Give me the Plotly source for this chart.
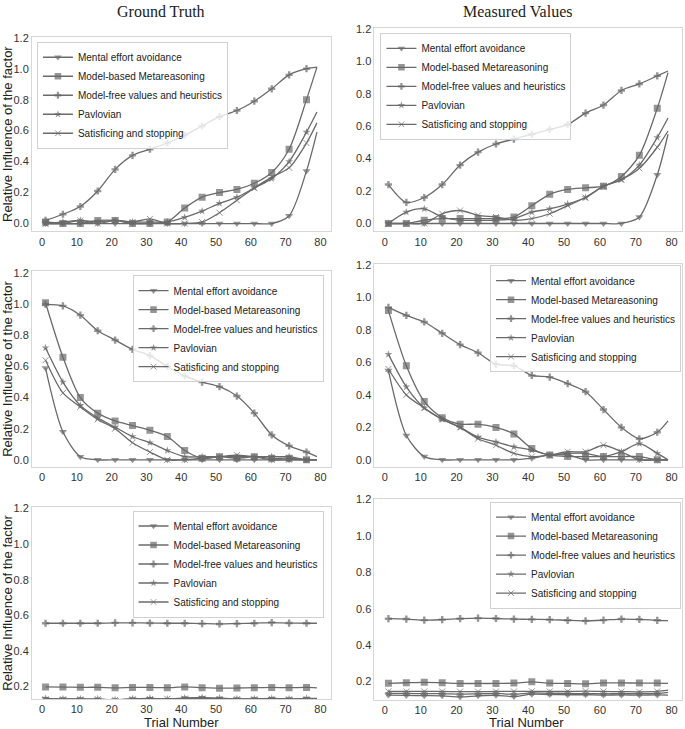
import plotly.graph_objects as go

# trials where a marker is drawn (every 5th), plus the last trial
trials = [1, 6, 11, 16, 21, 26, 31, 36, 41, 46, 51, 56, 61, 66, 71, 76, 79]

factors = ["Mental effort avoidance", "Model-based Metareasoning",
           "Model-free values and heuristics", "Pavlovian", "Satisficing and stopping"]

x_ticks = [0, 10, 20, 30, 40, 50, 60, 70, 80]
y_ticks = [0.0, 0.2, 0.4, 0.6, 0.8, 1.0, 1.2]
y_ticks_flat = [0.2, 0.4, 0.6, 0.8, 1.0, 1.2]

# row 1 - increasing
truth_up = [
    [0, 0, 0, 0, 0, 0, 0, 0, 0, 0, 0, 0, 0, 0, 0.05, 0.34, 0.59],
    [0.01, 0.0, 0.0, 0.02, 0.02, 0.0, 0.0, 0.01, 0.10, 0.17, 0.20, 0.22, 0.26, 0.33, 0.48, 0.80, 1.01],
    [0.02, 0.06, 0.11, 0.21, 0.35, 0.44, 0.48, 0.52, 0.57, 0.63, 0.69, 0.73, 0.79, 0.87, 0.96, 1.00, 1.01],
    [0.0, 0.01, 0.02, 0.01, 0.02, 0.01, 0.01, 0.01, 0.04, 0.08, 0.13, 0.17, 0.23, 0.29, 0.40, 0.59, 0.72],
    [0.0, 0.0, 0.02, 0.0, 0.02, 0.01, 0.03, 0.0, 0.0, 0.01, 0.07, 0.15, 0.23, 0.30, 0.36, 0.52, 0.65],
]
measured_up = [
    [0, 0, 0, 0, 0, 0, 0, 0, 0, 0, 0, 0, 0, 0, 0.04, 0.30, 0.55],
    [0.0, 0.0, 0.02, 0.03, 0.03, 0.03, 0.03, 0.04, 0.11, 0.18, 0.21, 0.22, 0.23, 0.29, 0.42, 0.71, 0.93],
    [0.24, 0.13, 0.16, 0.24, 0.36, 0.44, 0.49, 0.52, 0.55, 0.58, 0.61, 0.68, 0.73, 0.82, 0.86, 0.91, 0.94],
    [0.0, 0.07, 0.09, 0.04, 0.02, 0.02, 0.02, 0.03, 0.07, 0.09, 0.12, 0.16, 0.23, 0.27, 0.36, 0.53, 0.65],
    [0.0, 0.0, 0.0, 0.06, 0.08, 0.05, 0.04, 0.02, 0.03, 0.06, 0.11, 0.16, 0.23, 0.27, 0.34, 0.47, 0.57],
]

# row 2 - decreasing
truth_down = [
    [0.59, 0.18, 0.02, 0.0, 0, 0, 0, 0, 0, 0, 0, 0, 0, 0, 0, 0, 0],
    [1.01, 0.66, 0.40, 0.30, 0.25, 0.22, 0.19, 0.15, 0.06, 0.01, 0.02, 0.01, 0.02, 0.01, 0.01, 0.0, 0.0],
    [1.00, 0.99, 0.93, 0.83, 0.77, 0.71, 0.67, 0.60, 0.54, 0.50, 0.47, 0.41, 0.30, 0.16, 0.09, 0.05, 0.02],
    [0.72, 0.50, 0.35, 0.27, 0.21, 0.15, 0.11, 0.06, 0.02, 0.02, 0.02, 0.02, 0.02, 0.02, 0.02, 0.0, 0.0],
    [0.64, 0.43, 0.34, 0.26, 0.20, 0.11, 0.05, 0.0, 0.0, 0.01, 0.02, 0.03, 0.02, 0.0, 0.0, 0.0, 0.0],
]
measured_down = [
    [0.55, 0.15, 0.02, 0, 0, 0, 0, 0, 0.01, 0.03, 0.03, 0.0, 0.0, 0.0, 0.0, 0.0, 0.0],
    [0.92, 0.58, 0.36, 0.26, 0.22, 0.22, 0.20, 0.16, 0.07, 0.03, 0.02, 0.02, 0.02, 0.02, 0.02, 0.0, 0.0],
    [0.94, 0.89, 0.85, 0.78, 0.71, 0.66, 0.59, 0.58, 0.52, 0.51, 0.47, 0.42, 0.31, 0.20, 0.13, 0.17, 0.24],
    [0.65, 0.45, 0.32, 0.25, 0.20, 0.14, 0.11, 0.08, 0.06, 0.03, 0.04, 0.04, 0.02, 0.05, 0.10, 0.04, 0.0],
    [0.56, 0.40, 0.32, 0.25, 0.20, 0.13, 0.09, 0.04, 0.02, 0.03, 0.05, 0.05, 0.09, 0.05, 0.0, 0.0, 0.0],
]

# row 3 - flat
truth_flat = [
    [0.130, 0.128, 0.128, 0.127, 0.122, 0.128, 0.130, 0.125, 0.133, 0.135, 0.130, 0.128, 0.129, 0.130, 0.128, 0.130, 0.130],
    [0.197, 0.196, 0.195, 0.195, 0.192, 0.194, 0.194, 0.193, 0.197, 0.193, 0.190, 0.191, 0.193, 0.194, 0.193, 0.194, 0.192],
    [0.555, 0.555, 0.555, 0.555, 0.557, 0.557, 0.556, 0.555, 0.555, 0.553, 0.551, 0.553, 0.555, 0.559, 0.556, 0.555, 0.555],
    [0.132, 0.130, 0.130, 0.129, 0.125, 0.130, 0.133, 0.128, 0.135, 0.137, 0.134, 0.130, 0.130, 0.132, 0.130, 0.133, 0.133],
    [0.128, 0.128, 0.127, 0.128, 0.124, 0.128, 0.129, 0.130, 0.131, 0.132, 0.129, 0.128, 0.128, 0.130, 0.128, 0.129, 0.130],
]
measured_flat = [
    [0.125, 0.123, 0.122, 0.121, 0.115, 0.121, 0.124, 0.117, 0.130, 0.128, 0.127, 0.127, 0.125, 0.126, 0.125, 0.126, 0.125],
    [0.190, 0.193, 0.195, 0.193, 0.189, 0.189, 0.189, 0.191, 0.198, 0.191, 0.189, 0.187, 0.192, 0.192, 0.191, 0.191, 0.189],
    [0.545, 0.543, 0.537, 0.540, 0.545, 0.548, 0.546, 0.543, 0.541, 0.540, 0.536, 0.533, 0.537, 0.543, 0.541, 0.536, 0.534],
    [0.135, 0.134, 0.133, 0.133, 0.130, 0.132, 0.134, 0.130, 0.137, 0.135, 0.134, 0.133, 0.132, 0.133, 0.133, 0.134, 0.140],
    [0.145, 0.145, 0.145, 0.145, 0.144, 0.144, 0.145, 0.145, 0.146, 0.145, 0.145, 0.147, 0.145, 0.144, 0.143, 0.145, 0.152],
]

W, H = 685, 729
GREY = "#6a6a6a"
SANS = "Liberation Sans, Arial, sans-serif"
SERIF = "Liberation Serif, Times New Roman, serif"
symbols = ["triangle-down", "square", "cross", "star", "x-thin"]
msizes = [7, 7, 6, 6, 6]

# (data, frame px [left, right, top, bottom], y range, legend position)
panels = [
    (truth_up, [31, 330, 32, 228], [-0.051, 1.206], (36, 37, "left")),
    (measured_up, [374, 682, 23, 228], [-0.049, 1.206], (380, 28, "left")),
    (truth_down, [31, 330, 268, 465], [-0.045, 1.213], (323, 272, "right")),
    (measured_down, [374, 682, 261, 465], [-0.043, 1.206], (681, 262, "right")),
    (truth_flat, [31, 330, 505, 699], [0.128, 1.211], (323, 509, "right")),
    (measured_flat, [374, 682, 497, 700], [0.097, 1.205], (681, 500, "right")),
]

fig = go.Figure()
for i, (data, frame, yr, leg) in enumerate(panels):
    n = i + 1
    sfx = "" if n == 1 else str(n)
    lname = "legend" + sfx
    for k, name in enumerate(factors):
        sizes = [msizes[k]] * (len(trials) - 1) + [0]
        fig.add_trace(go.Scatter(
            x=trials, y=data[k], name=name, mode="lines+markers",
            line=dict(color=GREY, width=1.3, shape="spline", smoothing=0.8),
            marker=dict(symbol=symbols[k], size=sizes, color=GREY,
                        line=dict(color=GREY, width=1 if k == 4 else 0)),
            xaxis="x" + sfx, yaxis="y" + sfx, legend=lname,
        ))
    l, r, t, b = frame
    left_col = l < 100
    bottom_row = n >= 5
    fig.layout["xaxis" + sfx] = dict(
        domain=[l / W, r / W], anchor="y" + sfx, range=[-2.9, 82.9],
        tickvals=x_ticks, showgrid=False, zeroline=False, ticks="",
        showline=True, linecolor="#d6d6d6", mirror=True, linewidth=1,
        tickfont=dict(size=11, color="#333", family=SANS),
    )
    fig.layout["yaxis" + sfx] = dict(
        domain=[1 - b / H, 1 - t / H], anchor="x" + sfx, range=yr,
        tickvals=y_ticks_flat if bottom_row else y_ticks, tickformat=".1f",
        showgrid=False, zeroline=False, ticks="",
        showline=True, linecolor="#d6d6d6", mirror=True, linewidth=1,
        tickfont=dict(size=11, color="#333", family=SANS),
        title=dict(text="Relative Influence of the factor" if left_col else "",
                   font=dict(size=13, color="#222", family=SANS), standoff=4),
    )
    lx, ly, side = leg
    fig.layout[lname] = dict(
        x=lx / W, y=1 - ly / H, xanchor=side, yanchor="top",
        bgcolor="rgba(255,255,255,0.8)", bordercolor="#d0d0d0", borderwidth=1,
        font=dict(size=10, color="#222", family=SANS), itemwidth=30,
        tracegroupgap=0,
    )

# column titles and the x-axis titles of the bottom row
for text, cx, cy, font in [
    ("Ground Truth", 160, 7, dict(size=16, family=SERIF, color="#222")),
    ("Measured Values", 517, 7, dict(size=16, family=SERIF, color="#222")),
    ("Trial Number", 181, 722, dict(size=13, family=SANS, color="#222")),
    ("Trial Number", 526, 722, dict(size=13, family=SANS, color="#222")),
]:
    fig.add_annotation(text=text, x=cx / W, y=1 - cy / H, xref="paper", yref="paper",
                       xanchor="center", yanchor="middle", showarrow=False, font=font)

fig.update_layout(
    width=W, height=H, margin=dict(l=0, r=0, t=0, b=0),
    plot_bgcolor="white", paper_bgcolor="white",
)
# drop the page's default body margin so the figure sits at the window's corner
fig.write_html("out.html", config={"displayModeBar": False},
               post_script="document.body.style.margin='0px';")
